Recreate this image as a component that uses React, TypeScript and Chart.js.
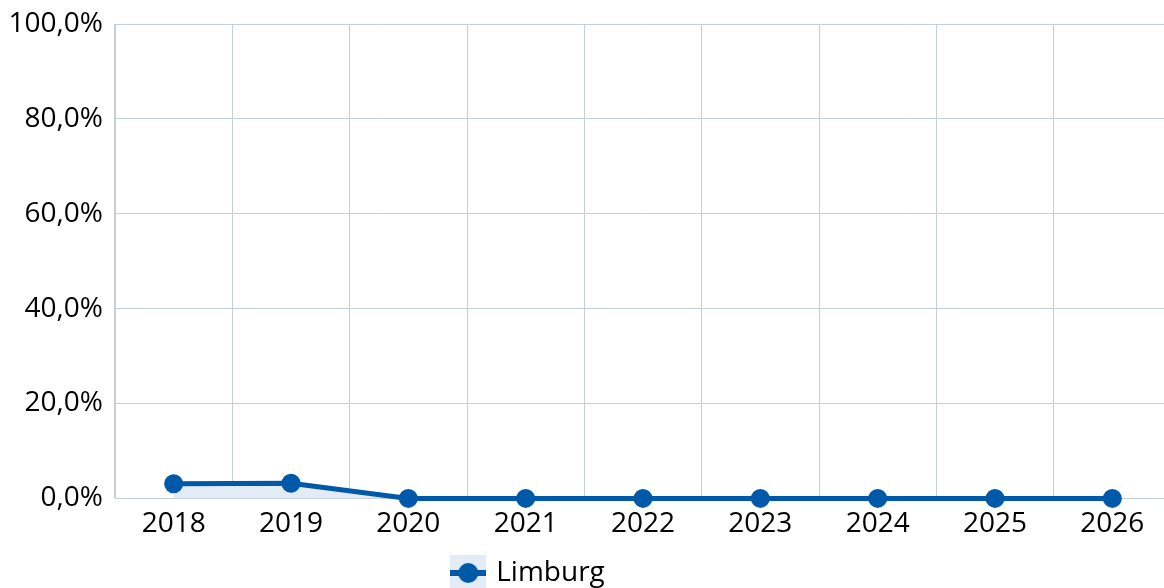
import React, { useEffect, useRef } from "react";
import { Chart, registerables } from "chart.js";

Chart.register(...registerables);

const categories = ["2018", "2019", "2020", "2021", "2022", "2023", "2024", "2025", "2026"];
const seriesName = "Limburg";
const seriesValues = [3.1, 3.2, 0, 0, 0, 0, 0, 0, 0];
const yTicks = [0, 20, 40, 60, 80, 100];

const LINE = "#0059a8";
const FILL = "#e3ebf6";
const GRID = "#c5cedb";
const FONT = "'Open Sans', sans-serif";

function makeLegendIcon(): HTMLCanvasElement {
  const c = document.createElement("canvas");
  c.width = 36;
  c.height = 36;
  const ctx = c.getContext("2d")!;
  ctx.fillStyle = FILL;
  ctx.fillRect(0, 0, 36, 36);
  ctx.strokeStyle = LINE;
  ctx.lineWidth = 6;
  ctx.beginPath();
  ctx.moveTo(0, 18);
  ctx.lineTo(36, 18);
  ctx.stroke();
  ctx.fillStyle = LINE;
  ctx.beginPath();
  ctx.arc(18, 18, 10, 0, Math.PI * 2);
  ctx.fill();
  return c;
}

export default function App() {
  const ref = useRef<HTMLCanvasElement>(null);
  useEffect(() => {
    document.body.style.margin = "0";
    document.body.style.overflow = "hidden";
    const icon = makeLegendIcon();
    const shiftLegend = {
      id: "shiftLegend",
      afterLayout(chart: any) {
        const lg = chart.legend;
        if (lg) {
          lg.left -= 56;
          lg.right -= 56;
          lg.top -= 1;
          lg.bottom -= 1;
        }
      },
    };
    const chart = new Chart(ref.current!, {
      type: "line",
      data: {
        labels: categories,
        datasets: [
          {
            label: seriesName,
            data: seriesValues,
            borderColor: LINE,
            backgroundColor: FILL,
            borderWidth: 5,
            pointRadius: 9.5,
            pointBackgroundColor: LINE,
            pointBorderWidth: 0,
            fill: "origin",
            tension: 0,
            clip: false,
          },
        ],
      },
      options: {
        animation: false,
        responsive: false,
        maintainAspectRatio: false,
        layout: { autoPadding: false, padding: { top: 0, right: 0, left: 0, bottom: 0 } },
        plugins: {
          tooltip: { enabled: false },
          legend: {
            position: "bottom",
            labels: {
              usePointStyle: true,
              pointStyleWidth: 28,
              boxHeight: 36,
              color: "#000",
              font: { family: FONT, size: 28 },
              generateLabels: (ch: any) =>
                ch.data.datasets.map((d: any, i: number) => ({
                  text: d.label,
                  pointStyle: icon,
                  fillStyle: FILL,
                  strokeStyle: LINE,
                  lineWidth: 0,
                  hidden: false,
                  datasetIndex: i,
                  fontColor: "#000",
                })),
            },
          },
        },
        scales: {
          x: {
            offset: true,
            grid: { offset: true, color: GRID, drawTicks: false, lineWidth: 1 },
            border: { color: GRID },
            ticks: { color: "#000", font: { family: FONT, size: 28 }, padding: 9, maxRotation: 0 },
          },
          y: {
            min: 0,
            max: 100,
            afterFit: (axis: any) => {
              axis.width = 115;
              axis.paddingTop = 24;
              axis.paddingBottom = 0;
            },
            afterBuildTicks: (axis: any) => {
              axis.ticks = yTicks.map((v) => ({ value: v }));
            },
            grid: { color: GRID, drawTicks: false, lineWidth: 1 },
            border: { color: GRID },
            ticks: {
              color: "#000",
              font: { family: FONT, size: 28 },
              padding: 12,
              callback: (v: any) => `${Number(v).toFixed(1).replace(".", ",")}%`,
            },
          },
        },
      },
      plugins: [shiftLegend],
    });
    return () => chart.destroy();
  }, []);
  return <canvas ref={ref} width={1171} height={598} style={{ display: "block" }} />;
}
